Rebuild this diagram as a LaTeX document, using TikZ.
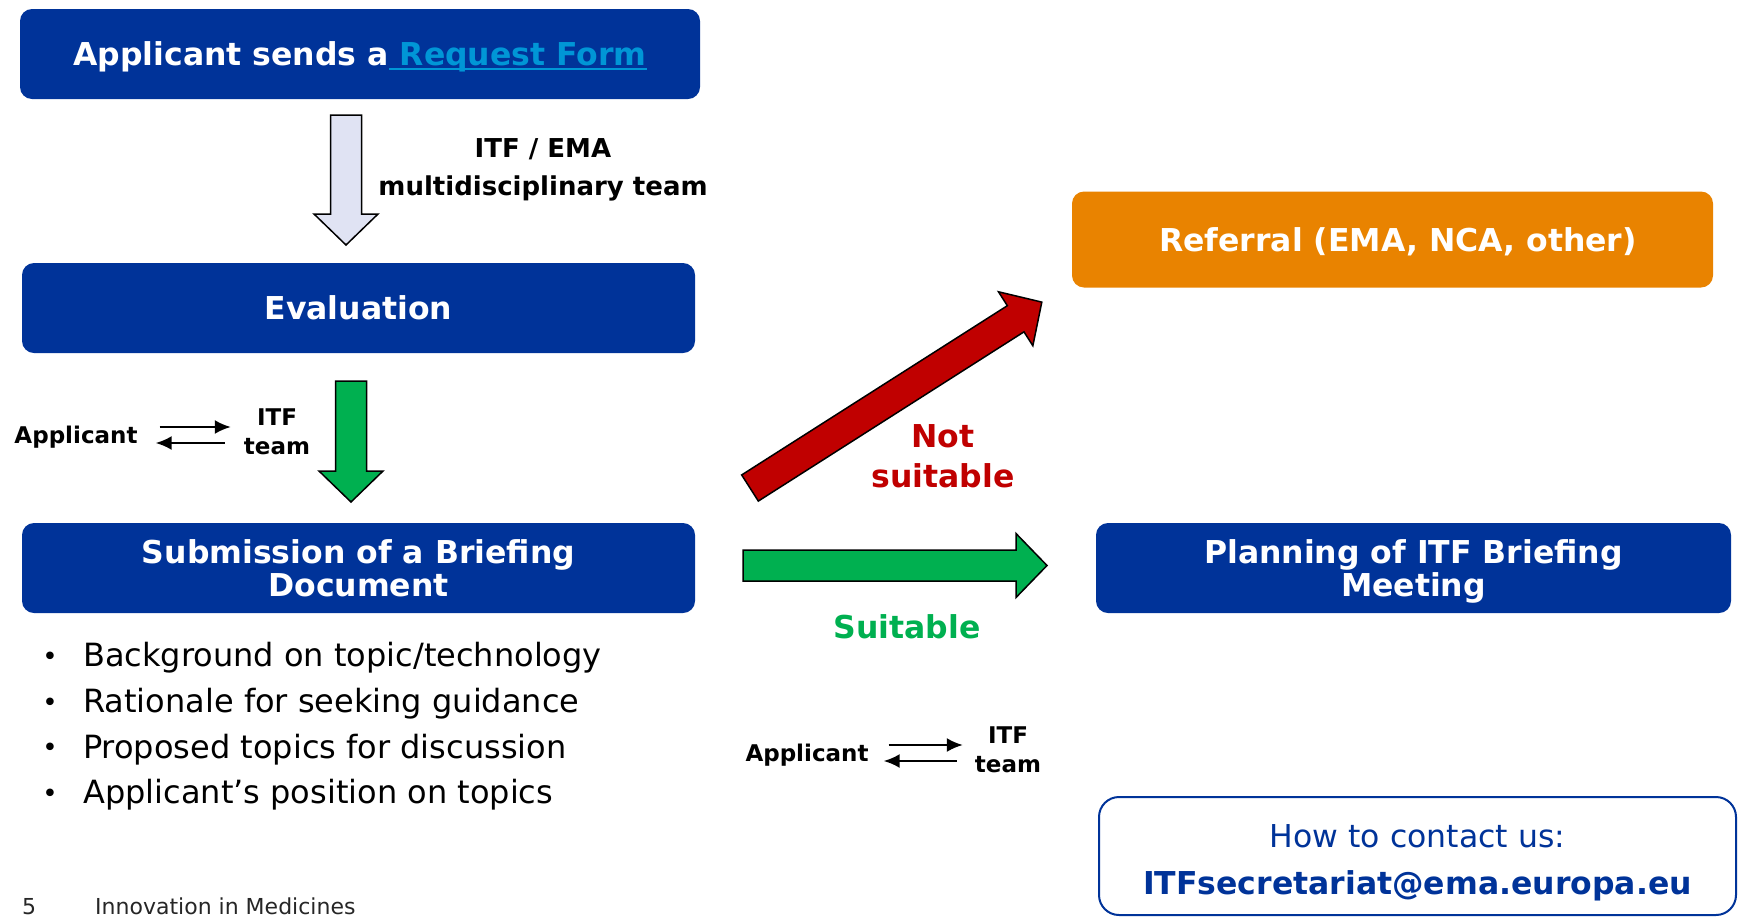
\documentclass[tikz,border=0pt]{standalone}
\usepackage{fontspec}
\setmainfont{DejaVu Sans}
\usetikzlibrary{arrows.meta}

\definecolor{emablue}{HTML}{003399}
\definecolor{linkblue}{HTML}{0096D6}
\definecolor{referorange}{HTML}{E98300}
\definecolor{okgreen}{HTML}{00B050}
\definecolor{notred}{HTML}{C00000}
\definecolor{paleblue}{HTML}{E0E3F3}

\newsavebox{\linkbox}
\newcommand{\linktext}[1]{\sbox{\linkbox}{#1}\rlap{\rule[-4pt]{\wd\linkbox}{2pt}}\usebox{\linkbox}}

\tikzset{
  stepbox/.style={rounded corners=12pt, fill=emablue, text=white, align=center,
    font=\bfseries\fontsize{31.5}{33}\selectfont, minimum height=90pt, inner sep=0pt,
    text depth=0pt},
  fatarrow/.style={draw=black, line width=1.5pt, line join=miter},
  chat/.style={-{Latex[length=16pt,width=14pt]}, line width=2pt},
  tag/.style={font=\bfseries\fontsize{23}{29}\selectfont, align=center, inner sep=0pt},
  verdict/.style={font=\bfseries\fontsize{31.5}{40}\selectfont, align=center, inner sep=0pt},
  item/.style={font=\fontsize{32}{38}\selectfont, inner sep=0pt, anchor=west},
  foot/.style={anchor=base west, inner sep=0pt, text=black!85, font=\fontsize{22}{22}\selectfont},
}

\begin{document}
\begin{tikzpicture}[x=1pt, y=-1pt]
\useasboundingbox (0,0) rectangle (1739,919);

\node[stepbox, minimum width=680pt] (request) at (360,54)
  {Applicant sends a\textcolor{linkblue}{\linktext{\ Request Form}}};
\node[stepbox, minimum width=673pt] (evaluation) at (358.5,308) {Evaluation};
\node[stepbox, minimum width=673pt] (submission) at (358.5,568)
  {Submission of a Briefing\\Document};
\node[stepbox, fill=referorange, minimum width=641pt, minimum height=96pt] (referral)
  at (1392.5,239.5) {\hspace*{11pt}Referral (EMA, NCA, other)};
\node[stepbox, minimum width=635pt] (planning) at (1413.5,568)
  {Planning of ITF Briefing\\Meeting};

% block arrows: x/y of tail, angle, length, colour
\foreach \x/\y/\a/\l/\c in
{346/115/-90/130/paleblue,
    351/381/-90/121/okgreen,
    750/488/32.5/346/notred,
    743/565.5/0/304/okgreen}
{
    \draw[fatarrow, fill=\c, shift={(\x,\y)}, rotate=\a]
      (0,-15.5) -- ({\l-31},-15.5) -- ({\l-31},-32) -- (\l,0)
      -- ({\l-31},32) -- ({\l-31},15.5) -- (0,15.5) -- cycle;
};

\node[tag, font=\bfseries\fontsize{26}{38}\selectfont] (itfema) at (543,170)
  {ITF / EMA\\multidisciplinary team};

\node[verdict, text=notred] (notfit) at (943,456) {Not\\suitable};
\node[verdict, text=okgreen] (fit) at (907,627) {Suitable};

% applicant <-> ITF team
\node[tag] (applA) at (76,437) {Applicant};
\node[tag] (itfA) at (277,432) {ITF\\team};
\draw[chat, shorten <=22pt, shorten >=13pt] ([yshift=10pt]applA.east) -- ([yshift=10pt]applA.east -| itfA.west);
\draw[chat, shorten <=19pt, shorten >=18pt] ([yshift=-6pt]applA.east -| itfA.west) -- ([yshift=-6pt]applA.east);

\node[tag] (applB) at (807,755) {Applicant};
\node[tag] (itfB) at (1008,750) {ITF\\team};
\draw[chat, shorten <=20pt, shorten >=12pt] ([yshift=10pt]applB.east) -- ([yshift=10pt]applB.east -| itfB.west);
\draw[chat, shorten <=18pt, shorten >=15pt] ([yshift=-6pt]applB.east -| itfB.west) -- ([yshift=-6pt]applB.east);

% briefing document contents
\foreach \t [count=\i] in
{Background on topic/technology,
    Rationale for seeking guidance,
    Proposed topics for discussion,
    Applicant’s position on topics}
{
    \node[item] (item\i) at (83,{611.8+45.8*\i}) {\t};
    \node[font=\fontsize{26}{26}\selectfont, inner sep=0pt] (dot\i) at ([xshift=-33pt,yshift=-1pt]item\i.west) {•};
};

% contact box
\node[draw=emablue, line width=2pt, fill=white, rounded corners=20pt,
  minimum width=637pt, minimum height=118pt] (contact) at (1417.5,856) {};
\node[text=emablue, align=center, inner sep=0pt, font=\fontsize{31.5}{47}\selectfont]
  (contacttext) at ([yshift=-6.5pt]contact.center)
  {How to contact us:\\\textbf{ITFsecretariat@ema.europa.eu}};

\node[foot] (pagenum) at (22,914) {5};
\node[foot] (footer) at (95,914) {Innovation in Medicines};
\end{tikzpicture}
\end{document}
